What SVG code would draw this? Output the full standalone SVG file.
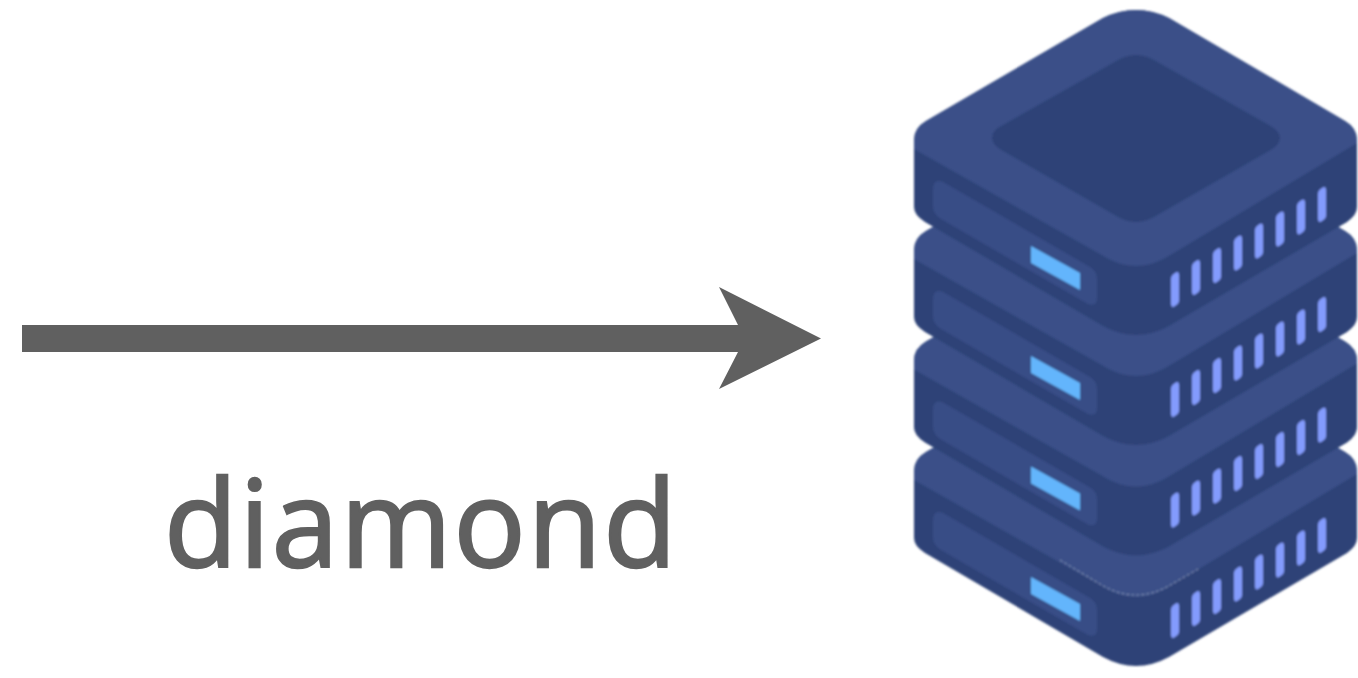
<svg xmlns="http://www.w3.org/2000/svg" xmlns:xlink="http://www.w3.org/1999/xlink" width="1358" height="678" viewBox="0 0 1358 678">
<style>
.side{fill:#2f4277}
.face{fill:#3a5088}
.panel{fill:#384d86}
.led{fill:#64b5fc}
.vent{fill:#839bfd}
.ink{fill:#606060}
.hair{fill:none;stroke:#a9b3cc;stroke-width:0.7;stroke-dasharray:3 2}
text{font-family:"Open Sans","Noto Sans",sans-serif;font-size:120px;letter-spacing:2px;stroke:#606060;stroke-width:2.4px}
</style>
<defs>
<filter id="soft" x="-5%" y="-5%" width="110%" height="110%"><feGaussianBlur stdDeviation="0.8"/></filter>
<path id="v" d="M-4-11Q-4-13-2.500-14.500L0-16.500Q4-19 4-14.500L4 11Q4 13 2.500 14.500L0 16.500Q-4 19-4 14.500Z"/>
<g id="slab">
<path class="side" d="M914 140Q914 128 926 121L1103 18Q1136 2 1169 18L1345 121Q1357 128 1357 140L1357 207Q1357 215 1347 222L1169 326Q1136 344 1103 326L925 222Q914 215 914 207Z"/>
<path class="face" d="M914 140Q914 128 926 121L1103 18Q1136 2 1169 18L1345 121Q1357 128 1357 140L1357 143L1172 254Q1136 278 1100 254L914 149Z"/>
<path class="panel" d="M933 190Q933 178 943 182L1090 267Q1097 271 1097 279L1097 298Q1097 307 1088 304L941 219Q933 214 933 206Z"/>
<path class="led" d="M1031 246L1080 273L1080 290L1031 263Z"/>
<use href="#v" class="vent" x="1175" y="289.500"/>
<use href="#v" class="vent" x="1196" y="277.500"/>
<use href="#v" class="vent" x="1217" y="265.500"/>
<use href="#v" class="vent" x="1238" y="253"/>
<use href="#v" class="vent" x="1259" y="241"/>
<use href="#v" class="vent" x="1280" y="229"/>
<use href="#v" class="vent" x="1301" y="217"/>
<use href="#v" class="vent" x="1322" y="204.500"/>
</g>
</defs>
<g id="connectors">
<path id="arrow" class="ink" d="M22 325H738L719 287L821 338.500L719 389L738 352H22Z"/>
</g>
<g id="label"><text class="ink" x="164" y="567">diamond</text></g>
<g id="server" filter="url(#soft)">
<use href="#slab" y="331"/>
<use href="#slab" y="220.500"/>
<use href="#slab" y="110"/>
<use href="#slab"/>
<path class="side" d="M992 138Q992 130 1003 125L1118 60Q1136 50 1154 60L1269 125Q1280 131 1280 138Q1280 145 1269 151L1154 217Q1136 227 1118 217L1003 151Q992 145 992 138Z"/>
<path class="hair" d="M1060 560L1100 584Q1136 606 1172 584L1200 568"/>
</g>
</svg>
